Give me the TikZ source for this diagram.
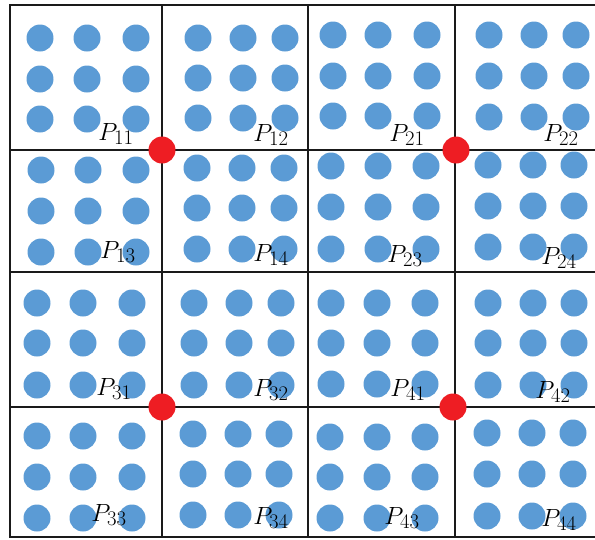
\documentclass[tikz,border=0pt]{standalone}
\usepackage{amsmath}
\definecolor{dotblue}{HTML}{5B9BD5}
\definecolor{dotred}{HTML}{EE1D23}
\definecolor{gridline}{HTML}{1A1A1A}
\tikzset{
  bluedot/.style={circle,fill=dotblue,draw=none,minimum size=27pt,inner sep=0pt},
  reddot/.style={circle,fill=dotred,draw=none,minimum size=27pt,inner sep=0pt},
  gridl/.style={draw=gridline,line width=2.6pt},
  plabel/.style={font=\fontsize{28}{30}\selectfont,inner sep=0pt}
}
\begin{document}
\begin{tikzpicture}[x=1pt,y=-1pt]
\useasboundingbox (0,0) rectangle (595,539);
% grid
\coordinate (tl) at (10,5);
\coordinate (tr) at (595,5);
\coordinate (bl) at (10,537);
\coordinate (br) at (595,537);
\draw[gridl] (tr) -- (tl) -- (bl) -- (br);
\foreach \xx/\nm in {162/a,308/b,455/c}{
  \coordinate (v\nm t) at (\xx,5);
  \coordinate (v\nm b) at (\xx,537);
  \draw[gridl] (v\nm t) -- (v\nm b);
}
\foreach \yy/\nm in {150/a,272/b,407/c}{
  \coordinate (h\nm l) at (10,\yy);
  \coordinate (h\nm r) at (595,\yy);
  \draw[gridl] (h\nm l) -- (h\nm r);
}
% blue dots: cell name / x1,x2,x3 / y1,y2,y3
\foreach \cn/\xa/\xb/\xc/\ya/\yb/\yc in {
  11/40/87/136/38/79/119,
  12/198/243/285/38/78/118,
  21/333/378/427/35/76/116,
  22/489/534/576/35/76/117,
  13/41/88/136/170/211/252,
  14/197/242/284/168/208/249,
  23/331/378/426/166/207/249,
  24/488/533/574/165/206/247,
  31/37/83/132/303/343/385,
  32/194/239/281/303/343/385,
  41/331/377/425/303/343/384,
  42/488/533/574/303/343/385,
  33/37/83/132/436/477/518,
  34/193/238/279/434/474/515,
  43/330/377/425/437/477/518,
  44/487/532/573/433/474/516}{
  \foreach \px [count=\i] in {\xa,\xb,\xc}{
    \foreach \py [count=\j] in {\ya,\yb,\yc}{
      \node[bluedot] (d\cn-\i-\j) at (\px,\py) {};
    }
  }
}
% red dots
\node[reddot] (r1) at (162,150) {};
\node[reddot] (r2) at (456,150) {};
\node[reddot] (r3) at (162,407) {};
\node[reddot] (r4) at (453,407) {};
% labels
\foreach \cn/\lx/\ly in {
  11/116/134, 12/271/135, 21/407/135, 22/561/135,
  13/118/252, 14/271/255, 23/405/256, 24/559/258,
  31/114/389, 32/271/390, 41/408/390, 42/553/392,
  33/109/515, 34/271/518, 43/402/518, 44/559/520}{
  \node[plabel] (l\cn) at (\lx,\ly) {$P_{\cn}$};
}
\end{tikzpicture}
\end{document}
